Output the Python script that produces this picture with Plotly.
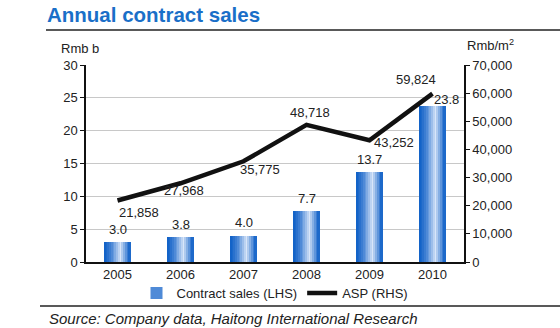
import plotly.graph_objects as go

years = ["2005", "2006", "2007", "2008", "2009", "2010"]
sales = [3.0, 3.8, 4.0, 7.7, 13.7, 23.8]
asp = [21858, 27968, 35775, 48718, 43252, 59824]
sales_labels = ["3.0", "3.8", "4.0", "7.7", "13.7", "23.8"]
asp_labels = ["21,858", "27,968", "35,775", "48,718", "43,252", "59,824"]

FONT = "Liberation Sans, Arial, sans-serif"
fig = go.Figure()

pl, pr, pt, pb = 86, 96, 65, 66
pw, ph = 560 - pl - pr, 328 - pt - pb
def px(xp):
    return (xp - pl) / pw
def py(yp):
    return (328 - pb - yp) / ph

# gradient bars built from narrow overlaid bands
W = 0.42
N = 15
dark = (18, 98, 200)
light = (220, 232, 250)
peak = 0.63
for i in range(N):
    t = (i + 0.5) / N
    if t <= peak:
        s = (t / peak) ** 1.6
    else:
        s = ((1 - t) / (1 - peak)) ** 1.2
    c = tuple(int(dark[k] + (light[k] - dark[k]) * s) for k in range(3))
    fig.add_trace(go.Bar(
        x=years, y=sales, width=W / N, offset=-W / 2 + i * W / N,
        marker=dict(color="rgb(%d,%d,%d)" % c, line=dict(width=0)),
        name="Contract sales (LHS)", legendgroup="sales",
        showlegend=(i == 4), hoverinfo="skip",
    ))

fig.add_trace(go.Scatter(
    x=years, y=asp, yaxis="y2", mode="lines",
    line=dict(color="#111111", width=4.5), name="ASP (RHS)",
))

ann = []
for i, (v, lab) in enumerate(zip(sales, sales_labels)):
    if lab == "23.8":
        ann.append(dict(x=i, y=v, xref="x", yref="y", text=lab, showarrow=False,
                        xshift=14, yshift=6, font=dict(size=13, color="#222")))
    else:
        ann.append(dict(x=i, y=v, xref="x", yref="y", text=lab, showarrow=False,
                        yshift=13, font=dict(size=13, color="#222")))
shifts = [(21, -12), (3, -7), (16, -8), (3, 12), (24, -2), (-17, 14)]
for i, (v, lab, (dx, dy)) in enumerate(zip(asp, asp_labels, shifts)):
    ann.append(dict(x=i, y=v, xref="x", yref="y2", text=lab, showarrow=False,
                    xshift=dx, yshift=dy, font=dict(size=13, color="#222")))

# axis unit titles
ann.append(dict(x=px(80), y=py(48), xref="paper", yref="paper", text="Rmb b",
                xanchor="center", yanchor="middle",
                showarrow=False, font=dict(size=13, color="#222")))
ann.append(dict(x=px(490), y=py(45), xref="paper", yref="paper", text="Rmb/m<sup>2</sup>",
                xanchor="center", yanchor="middle",
                showarrow=False, font=dict(size=13, color="#222")))
# source
ann.append(dict(x=px(47), y=py(318), xref="paper", yref="paper",
                text="<i>Source: Company data, Haitong International Research</i>",
                showarrow=False, xanchor="left", yanchor="middle",
                font=dict(size=15, color="#222")))

shapes = [
    dict(type="line", xref="paper", yref="paper", x0=px(46), x1=px(560),
         y0=py(30), y1=py(30), line=dict(color="#222", width=1.5)),
    dict(type="line", xref="paper", yref="paper", x0=px(40), x1=px(560),
         y0=py(306), y1=py(306), line=dict(color="#222", width=1.5)),
]

fig.update_layout(
    width=560, height=328,
    margin=dict(l=pl, r=pr, t=pt, b=pb),
    paper_bgcolor="white", plot_bgcolor="white",
    font=dict(family=FONT, size=13, color="#222"),
    barmode="overlay", bargap=0,
    title=dict(text="<b>Annual contract sales</b>", xref="container", yref="container",
               x=47 / 560, y=1 - 15 / 328, xanchor="left", yanchor="middle",
               font=dict(size=20.5, color="#1a6fc8", family=FONT)),
    xaxis=dict(type="category", range=[-0.5, 5.5], showline=True, linecolor="#111",
               linewidth=1.5, ticks="", showgrid=False, tickfont=dict(size=13)),
    yaxis=dict(range=[0, 30], dtick=5, showline=True, linecolor="#111", linewidth=1.5,
               ticks="outside", ticklen=4, tickcolor="#111", showgrid=True,
               gridcolor="#c8c8c8", gridwidth=1, zeroline=False),
    yaxis2=dict(range=[0, 70000], dtick=10000, overlaying="y", side="right",
                showline=True, linecolor="#111", linewidth=1.5, ticks="outside",
                ticklen=4, tickcolor="#111", showgrid=False, tickformat=",",
                zeroline=False),
    legend=dict(orientation="h", x=0.5, xanchor="center", y=py(293), yanchor="middle",
                font=dict(size=13), bgcolor="rgba(0,0,0,0)", itemwidth=30),
    annotations=ann, shapes=shapes,
)

fig.write_html("out.html")
